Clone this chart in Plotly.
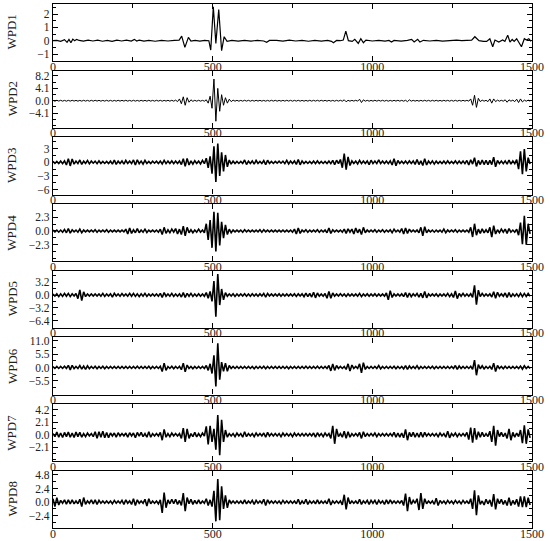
import plotly.graph_objects as go

# ---------------- data ----------------
STEP = 6

wpd1_x = [0, 12, 24, 36, 44, 50, 56, 62, 68, 74, 82, 95, 110, 125, 140, 155, 170, 185, 200, 215,
          230, 245, 255, 262, 270, 285, 300, 320, 340, 360, 380, 395, 403, 413, 424, 432, 445, 460, 475, 488,
          494, 502, 510, 519, 528, 536, 545, 560, 580, 600, 620, 640, 660, 669, 678, 700, 720, 740, 760, 780,
          800, 820, 840, 860, 872, 878, 888, 900, 909, 917, 925, 937, 945, 956, 964, 972, 980, 1000, 1020, 1040,
          1052, 1060, 1068, 1090, 1110, 1123, 1131, 1142, 1149, 1160, 1180, 1200, 1220, 1240, 1264, 1280, 1300, 1311, 1321, 1334,
          1348, 1358, 1368, 1377, 1384, 1396, 1408, 1415, 1424, 1431, 1438, 1444, 1452, 1460, 1467, 1476, 1483, 1490, 1497]
wpd1_y = [0.0, 0.03, -0.05, 0.08, -0.12, 0.1, -0.15, 0.12, 0.0, 0.1, 0.02, -0.03, 0.05, -0.02, 0.04, -0.04, 0.03, -0.05, 0.04, -0.02,
          0.05, -0.03, 0.1, -0.02, 0.04, -0.03, 0.02, -0.04, 0.03, -0.02, 0.03, 0.05, 0.35, -0.5, 0.25, -0.02, 0.03, -0.03, 0.02, 0.0,
          -0.7, 2.55, -0.2, 2.35, -0.75, 0.3, -0.05, 0.03, -0.03, 0.02, -0.03, 0.03, -0.02, -0.12, 0.02, 0.03, -0.03, 0.04, -0.02, 0.03,
          -0.04, 0.02, -0.03, 0.03, -0.05, -0.15, 0.02, 0.0, 0.05, 0.72, 0.0, -0.05, 0.1, -0.2, 0.15, -0.15, 0.05, -0.02, 0.03, -0.03,
          0.02, -0.1, 0.02, -0.03, 0.03, 0.1, -0.1, 0.1, -0.1, 0.03, -0.02, 0.03, -0.03, 0.02, 0.05, 0.0, 0.02, 0.05, 0.3, 0.0,
          -0.05, -0.05, 0.15, -0.45, 0.05, -0.1, 0.05, -0.05, 0.42, -0.1, 0.1, -0.05, 0.15, -0.2, -0.45, 0.15, 0.05, 0.15, -0.05]

wpd2 = [
    0.12, -0.15, 0.14, -0.12, 0.15, -0.14, 0.12, -0.15, 0.14, -0.13,
    0.15, -0.12, 0.13, -0.15, 0.12, -0.14, 0.15, -0.12, 0.13, -0.15,
    0.14, -0.13, 0.15, -0.12, 0.14, -0.15, 0.12, -0.13, 0.15, -0.14,
    0.13, -0.15, 0.12, -0.14, 0.15, -0.13, 0.14, -0.12, 0.15, -0.14,
    0.12, -0.14, 0.15, -0.13, 0.12, -0.15, 0.14, -0.12, 0.13, -0.15,
    0.15, -0.13, 0.12, -0.14, 0.15, -0.12, 0.14, -0.15, 0.13, -0.12,
    0.15, -0.15, 0.15, -0.15, 0.2, -0.3, 0.6, -1.0, 1.3, -1.5,
    1.0, -0.5, 0.3, -0.2, 0.15, -0.15, 0.15, -0.14, 0.13, -0.15,
    0.3, -0.8, 1.5, -2.5, 7.2, -6.8, 4.1, -3.5, 2.0, -1.5,
    1.0, -0.8, 0.5, -0.3, 0.2, -0.15, 0.14, -0.15, 0.12, -0.14,
    0.15, -0.12, 0.14, -0.15, 0.13, -0.14, 0.15, -0.12, 0.14, -0.13,
    0.12, -0.15, 0.13, -0.14, 0.15, -0.12, 0.14, -0.15, 0.12, -0.14,
    0.14, -0.13, 0.15, -0.12, 0.14, -0.15, 0.13, -0.12, 0.15, -0.14,
    0.13, -0.15, 0.12, -0.14, 0.15, -0.13, 0.14, -0.12, 0.15, -0.13,
    0.15, -0.12, 0.14, -0.15, 0.13, -0.14, 0.12, -0.15, 0.14, -0.12,
    0.15, -0.15, 0.3, -0.35, 0.15, -0.15, 0.14, -0.12, 0.15, -0.14,
    0.5, -0.6, 0.3, -0.15, 0.14, -0.15, 0.12, -0.14, 0.15, -0.13,
    0.14, -0.12, 0.15, -0.14, 0.13, -0.15, 0.12, -0.14, 0.15, -0.12,
    0.15, -0.14, 0.13, -0.15, 0.15, -0.3, 0.3, -0.15, 0.14, -0.13,
    0.12, -0.15, 0.14, -0.13, 0.15, -0.12, 0.13, -0.15, 0.14, -0.12,
    0.15, -0.13, 0.12, -0.14, 0.15, -0.12, 0.14, -0.15, 0.13, -0.14,
    0.15, -0.15, 0.14, -0.13, 0.15, -0.12, 0.14, -0.15, 0.6, -1.5,
    1.8, -2.2, 0.8, -0.3, 0.2, -0.15, 0.15, -0.3, 0.6, -0.8,
    0.6, -0.3, 0.2, -0.15, 0.15, -0.15, 0.3, -0.5, 0.3, -0.15,
    0.2, -0.3, 0.5, -0.6, 0.6, -0.4, 0.2, -0.15, 0.2, -0.15,
]

wpd3 = [
    0.2, -0.25, 0.2, -0.25, 0.25, -0.3, 0.3, -0.6, 0.8, -0.8,
    0.7, -0.4, 0.25, -0.3, 0.5, -0.45, 0.25, -0.25, 0.4, -0.35,
    0.25, -0.2, 0.25, -0.3, 0.3, -0.25, 0.2, -0.25, 0.2, -0.25,
    0.25, -0.4, 0.5, -0.45, 0.25, -0.25, 0.3, -0.4, 0.4, -0.25,
    0.25, -0.3, 0.5, -0.6, 0.55, -0.3, 0.25, -0.4, 0.4, -0.25,
    0.2, -0.25, 0.25, -0.2, 0.25, -0.25, 0.25, -0.35, 0.4, -0.3,
    0.25, -0.25, 0.3, -0.3, 0.25, -0.25, 0.3, -0.5, 0.8, -0.9,
    0.85, -0.6, 0.3, -0.4, 0.35, -0.25, 0.25, -0.35, 0.4, -0.3,
    0.9, -1.2, 1.3, -2.5, 3.5, -4.3, 4.1, -3.0, 2.2, -2.0,
    1.6, -1.0, 0.5, -0.4, 0.25, -0.25, 0.2, -0.25, 0.2, -0.25,
    0.5, -0.5, 0.25, -0.25, 0.3, -0.4, 0.4, -0.25, 0.2, -0.25,
    0.35, -0.5, 0.45, -0.25, 0.2, -0.25, 0.2, -0.2, 0.25, -0.2,
    0.25, -0.3, 0.4, -0.35, 0.25, -0.25, 0.3, -0.45, 0.6, -0.55,
    0.3, -0.25, 0.2, -0.25, 0.2, -0.25, 0.25, -0.3, 0.3, -0.25,
    0.2, -0.25, 0.2, -0.25, 0.25, -0.3, 0.4, -0.5, 0.45, -0.3,
    0.6, -1.2, 1.9, -1.6, 1.2, -0.7, 0.3, -0.25, 0.25, -0.35,
    0.4, -0.3, 0.25, -0.25, 0.3, -0.5, 0.45, -0.3, 0.25, -0.3,
    0.5, -0.3, 0.25, -0.25, 0.25, -0.3, 0.3, -0.6, 0.8, -0.75,
    0.4, -0.25, 0.25, -0.25, 0.25, -0.3, 0.3, -0.25, 0.3, -0.45,
    0.6, -0.5, 0.3, -0.7, 0.8, -0.6, 0.25, -0.3, 0.3, -0.4,
    0.25, -0.25, 0.2, -0.25, 0.25, -0.3, 0.3, -0.25, 0.2, -0.25,
    0.3, -0.3, 0.25, -0.25, 0.25, -0.3, 0.4, -0.6, 0.55, -0.4,
    1.0, -0.9, 0.4, -0.5, 0.5, -0.5, 0.45, -0.5, 0.4, -0.5,
    1.1, -1.0, 0.4, -0.3, 0.25, -0.3, 0.3, -0.4, 0.5, -0.4,
    0.3, -0.3, 0.6, -1.5, 2.4, -2.6, 2.9, -2.0, 1.0, -0.4,
]

wpd4 = [
    0.15, -0.15, 0.15, -0.2, 0.15, -0.2, 0.25, -0.3, 0.4, -0.35,
    0.2, -0.15, 0.15, -0.2, 0.3, -0.3, 0.15, -0.15, 0.15, -0.15,
    0.15, -0.15, 0.2, -0.2, 0.15, -0.15, 0.15, -0.15, 0.2, -0.2,
    0.15, -0.15, 0.15, -0.15, 0.15, -0.15, 0.15, -0.15, 0.3, -0.5,
    0.5, -0.4, 0.2, -0.3, 0.4, -0.3, 0.15, -0.2, 0.3, -0.25,
    0.15, -0.15, 0.15, -0.15, 0.15, -0.2, 0.3, -0.6, 0.6, -0.4,
    0.2, -0.3, 0.3, -0.2, 0.4, -0.5, 0.3, -0.6, 0.8, -0.8,
    0.6, -0.3, 0.2, -0.3, 0.15, -0.2, 0.3, -0.2, 0.15, -0.3,
    1.2, -1.5, 1.8, -2.8, 3.2, -3.4, 3.0, -2.4, 1.5, -1.2,
    1.0, -0.6, 0.3, -0.3, 0.15, -0.15, 0.15, -0.15, 0.15, -0.2,
    0.2, -0.15, 0.15, -0.15, 0.15, -0.15, 0.15, -0.15, 0.2, -0.2,
    0.2, -0.15, 0.15, -0.15, 0.15, -0.15, 0.15, -0.15, 0.15, -0.15,
    0.15, -0.15, 0.15, -0.15, 0.15, -0.2, 0.3, -0.5, 0.5, -0.4,
    0.15, -0.15, 0.2, -0.2, 0.15, -0.15, 0.15, -0.15, 0.2, -0.2,
    0.15, -0.15, 0.15, -0.3, 0.5, -0.4, 0.2, -0.15, 0.15, -0.15,
    0.15, -0.2, 0.3, -0.4, 0.35, -0.2, 0.3, -0.5, 0.5, -0.3,
    0.3, -0.6, 0.6, -0.3, 0.15, -0.15, 0.15, -0.15, 0.2, -0.2,
    0.15, -0.15, 0.2, -0.2, 0.15, -0.15, 0.2, -0.3, 0.3, -0.15,
    0.15, -0.2, 0.4, -0.5, 0.5, -0.4, 0.3, -0.15, 0.15, -0.15,
    0.15, -0.3, 0.6, -0.8, 0.7, -0.3, 0.15, -0.15, 0.15, -0.2,
    0.15, -0.15, 0.15, -0.2, 0.3, -0.3, 0.15, -0.15, 0.15, -0.15,
    0.2, -0.2, 0.15, -0.15, 0.15, -0.15, 0.15, -0.2, 0.6, -1.0,
    1.2, -0.7, 0.3, -0.4, 0.35, -0.3, 0.2, -0.3, 0.6, -1.0,
    0.9, -0.5, 0.2, -0.3, 0.3, -0.2, 0.3, -0.4, 0.4, -0.2,
    0.15, -0.2, 0.3, -0.7, 1.4, -2.2, 2.5, -2.3, 1.2, -0.5,
]

wpd5 = [
    0.25, -0.25, 0.3, -0.4, 0.3, -0.35, 0.4, -0.3, 0.4, -0.4,
    0.3, -0.25, 0.4, -0.9, 1.3, -1.4, 0.8, -0.4, 0.25, -0.25,
    0.25, -0.25, 0.25, -0.25, 0.25, -0.3, 0.4, -0.35, 0.25, -0.25,
    0.3, -0.5, 0.45, -0.25, 0.25, -0.3, 0.35, -0.25, 0.25, -0.3,
    0.4, -0.3, 0.4, -0.35, 0.3, -0.4, 0.3, -0.3, 0.4, -0.35,
    0.25, -0.25, 0.25, -0.25, 0.25, -0.3, 0.4, -0.6, 0.6, -0.3,
    0.25, -0.3, 0.4, -0.35, 0.25, -0.3, 0.3, -0.5, 0.6, -0.6,
    0.4, -0.3, 0.4, -0.35, 0.25, -0.3, 0.3, -0.3, 0.25, -0.3,
    0.6, -0.8, 0.9, -1.6, 3.5, -5.4, 5.2, -2.5, 1.5, -1.2,
    0.6, -0.3, 0.25, -0.25, 0.3, -0.35, 0.25, -0.25, 0.25, -0.25,
    0.3, -0.3, 0.25, -0.3, 0.3, -0.25, 0.25, -0.3, 0.3, -0.25,
    0.4, -0.5, 0.4, -0.25, 0.25, -0.25, 0.25, -0.25, 0.3, -0.3,
    0.25, -0.25, 0.25, -0.25, 0.25, -0.25, 0.3, -0.35, 0.3, -0.25,
    0.3, -0.4, 0.5, -0.4, 0.4, -0.5, 0.7, -0.7, 0.5, -0.3,
    0.25, -0.3, 0.4, -0.8, 0.9, -0.8, 0.5, -0.3, 0.25, -0.25,
    0.3, -0.25, 0.25, -0.35, 0.3, -0.25, 0.25, -0.25, 0.25, -0.3,
    0.4, -0.4, 0.25, -0.25, 0.3, -0.3, 0.25, -0.25, 0.3, -0.3,
    0.25, -0.25, 0.25, -0.3, 0.5, -1.2, 1.1, -0.6, 0.3, -0.25,
    0.25, -0.25, 0.3, -0.4, 0.6, -0.6, 0.5, -0.4, 0.3, -0.25,
    0.4, -0.5, 0.4, -0.7, 0.9, -0.7, 0.3, -0.25, 0.25, -0.25,
    0.3, -0.35, 0.25, -0.25, 0.25, -0.3, 0.4, -0.4, 0.3, -0.6,
    1.0, -0.9, 0.4, -0.3, 0.4, -0.3, 0.25, -0.3, 0.3, -0.6,
    2.4, -2.4, 1.2, -0.4, 0.4, -0.3, 0.25, -0.25, 0.3, -0.5,
    0.8, -0.8, 0.7, -0.3, 0.3, -0.3, 0.5, -0.6, 0.6, -0.5,
    0.3, -0.3, 0.3, -0.4, 0.4, -0.4, 0.4, -0.35, 0.4, -0.3,
]

wpd6 = [
    0.4, -0.4, 0.4, -0.4, 0.4, -0.4, 0.5, -0.4, 0.9, -1.0,
    0.9, -0.5, 0.4, -0.4, 0.8, -0.7, 0.6, -0.8, 0.7, -0.5,
    0.4, -0.4, 0.5, -0.5, 0.4, -0.4, 0.5, -0.5, 0.4, -0.4,
    0.4, -0.4, 0.4, -0.4, 0.4, -0.4, 0.4, -0.4, 0.4, -0.4,
    0.4, -0.4, 0.4, -0.4, 0.5, -0.4, 0.4, -0.4, 0.4, -0.4,
    0.5, -0.5, 0.4, -0.4, 0.4, -0.4, 0.5, -1.7, 1.8, -1.2,
    0.4, -0.4, 0.5, -0.5, 0.4, -0.4, 0.5, -0.9, 1.8, -1.8,
    1.0, -0.4, 0.4, -0.5, 0.4, -0.4, 0.4, -0.4, 0.4, -0.4,
    0.8, -1.2, 1.5, -2.5, 5.0, -7.8, 10.0, -5.0, 2.2, -1.6,
    1.8, -1.6, 0.8, -0.4, 0.4, -0.4, 0.4, -0.4, 0.4, -0.4,
    0.4, -0.4, 0.4, -0.4, 0.4, -0.5, 0.4, -0.4, 0.4, -0.4,
    0.5, -0.5, 0.4, -0.4, 0.4, -0.4, 0.4, -0.4, 0.4, -0.4,
    0.4, -0.4, 0.4, -0.5, 0.4, -0.4, 0.4, -0.4, 0.4, -0.4,
    0.4, -0.4, 0.5, -0.4, 0.4, -0.4, 0.4, -0.4, 0.5, -0.4,
    0.4, -0.4, 0.4, -0.4, 0.8, -1.4, 1.4, -1.2, 0.8, -0.4,
    0.4, -0.4, 0.4, -0.8, 1.5, -1.5, 1.0, -0.4, 0.4, -0.4,
    1.5, -2.2, 2.0, -0.8, 0.4, -0.4, 0.4, -0.4, 0.4, -0.4,
    0.8, -0.6, 0.4, -0.4, 0.4, -0.4, 0.4, -0.4, 0.5, -0.5,
    0.4, -0.4, 0.4, -0.6, 0.8, -0.8, 0.6, -0.4, 0.4, -0.4,
    0.7, -0.6, 0.4, -0.4, 0.4, -0.4, 0.4, -0.4, 0.5, -0.5,
    0.4, -0.4, 0.4, -0.4, 0.4, -0.4, 0.4, -0.4, 0.4, -0.4,
    0.8, -0.8, 0.6, -0.4, 0.4, -0.4, 0.4, -0.4, 0.5, -0.8,
    3.0, -3.2, 1.2, -0.5, 0.7, -0.6, 0.4, -0.4, 0.5, -0.8,
    1.8, -1.7, 0.8, -0.4, 0.4, -0.5, 0.5, -0.4, 0.4, -0.4,
    0.4, -0.4, 0.4, -0.4, 0.6, -0.7, 0.7, -0.4, 0.4, -0.4,
]

wpd7 = [
    0.2, -0.3, 0.45, -0.4, 0.3, -0.45, 0.4, -0.3, 0.45, -0.4,
    0.3, -0.45, 0.45, -0.3, 0.4, -0.4, 0.2, -0.3, 0.3, -0.2,
    0.2, -0.3, 0.5, -0.6, 0.5, -0.4, 0.6, -0.5, 0.4, -0.5,
    0.3, -0.2, 0.3, -0.4, 0.35, -0.2, 0.2, -0.2, 0.3, -0.4,
    0.35, -0.2, 0.3, -0.5, 0.4, -0.2, 0.4, -0.3, 0.2, -0.4,
    0.5, -0.4, 0.2, -0.2, 0.2, -0.2, 0.4, -0.9, 0.9, -0.4,
    0.2, -0.3, 0.3, -0.2, 0.2, -0.2, 0.2, -0.6, 1.1, -1.2,
    1.0, -0.6, 0.2, -0.3, 0.4, -0.35, 0.2, -0.3, 0.3, -0.2,
    1.4, -1.6, 1.5, -1.2, 1.0, -2.5, 3.3, -3.4, 2.5, -1.2,
    0.8, -0.4, 0.2, -0.2, 0.2, -0.3, 0.3, -0.2, 0.2, -0.4,
    0.5, -0.3, 0.2, -0.2, 0.2, -0.3, 0.3, -0.2, 0.2, -0.2,
    0.3, -0.4, 0.4, -0.2, 0.2, -0.2, 0.2, -0.2, 0.2, -0.3,
    0.3, -0.2, 0.2, -0.2, 0.2, -0.3, 0.3, -0.2, 0.2, -0.2,
    0.2, -0.2, 0.2, -0.2, 0.2, -0.2, 0.3, -0.4, 0.35, -0.2,
    0.2, -0.3, 0.3, -0.2, 0.2, -0.6, 1.5, -1.5, 1.0, -0.3,
    0.2, -0.4, 0.6, -0.6, 0.5, -0.4, 0.2, -0.2, 0.2, -0.2,
    0.4, -0.6, 0.5, -0.3, 0.2, -0.2, 0.2, -0.2, 0.3, -0.3,
    0.2, -0.2, 0.2, -0.2, 0.2, -0.2, 0.2, -0.2, 0.4, -0.4,
    0.3, -0.4, 0.3, -0.5, 0.9, -0.9, 0.4, -0.3, 0.4, -0.4,
    0.3, -0.4, 0.4, -0.4, 0.4, -0.2, 0.2, -0.2, 0.2, -0.2,
    0.2, -0.3, 0.3, -0.2, 0.2, -0.4, 0.6, -0.5, 0.2, -0.2,
    0.3, -0.3, 0.2, -0.2, 0.2, -0.2, 0.4, -0.8, 1.2, -1.3,
    1.1, -0.8, 0.5, -0.4, 0.4, -0.3, 0.2, -0.3, 0.6, -1.2,
    1.5, -1.8, 0.8, -0.3, 0.4, -0.3, 0.3, -0.6, 1.0, -0.9,
    0.4, -0.4, 0.3, -0.3, 0.8, -1.4, 1.6, -1.5, 0.9, -0.5,
]

wpd8 = [
    0.6, -0.8, 0.8, -0.5, 0.3, -0.2, 0.4, -0.35, 0.4, -0.3,
    0.4, -0.3, 0.2, -0.3, 0.5, -0.8, 0.8, -0.4, 0.2, -0.2,
    0.4, -0.3, 0.4, -0.4, 0.3, -0.2, 0.2, -0.2, 0.2, -0.2,
    0.2, -0.3, 0.3, -0.2, 0.2, -0.2, 0.3, -0.4, 0.4, -0.2,
    0.2, -0.4, 0.6, -0.6, 0.4, -0.2, 0.2, -0.2, 0.5, -0.7,
    0.6, -0.3, 0.2, -0.2, 0.2, -0.3, 0.4, -1.9, 1.7, -1.0,
    0.4, -0.3, 0.5, -0.3, 0.5, -0.4, 0.3, -0.6, 1.6, -1.6,
    0.8, -0.3, 0.5, -0.4, 0.3, -0.3, 0.4, -0.3, 0.2, -0.2,
    0.6, -0.6, 0.4, -0.8, 2.0, -3.4, 4.1, -3.2, 2.8, -1.2,
    1.2, -1.0, 0.4, -0.2, 0.2, -0.2, 0.2, -0.2, 0.2, -0.3,
    0.4, -0.3, 0.2, -0.2, 0.3, -0.4, 0.3, -0.2, 0.2, -0.2,
    0.5, -0.6, 0.4, -0.2, 0.2, -0.2, 0.2, -0.2, 0.2, -0.3,
    0.3, -0.2, 0.2, -0.2, 0.2, -0.2, 0.2, -0.3, 0.5, -0.4,
    0.2, -0.3, 0.5, -0.4, 0.2, -0.2, 0.2, -0.3, 0.4, -0.3,
    0.2, -0.2, 0.2, -0.3, 0.6, -0.5, 0.2, -0.2, 0.2, -0.2,
    0.2, -0.5, 1.3, -1.3, 0.8, -0.3, 0.2, -0.2, 0.2, -0.3,
    0.5, -0.4, 0.2, -0.2, 0.3, -0.4, 0.3, -0.2, 0.3, -0.4,
    0.3, -0.2, 0.2, -0.4, 0.4, -0.3, 0.4, -0.2, 0.2, -0.2,
    0.2, -0.2, 0.3, -0.6, 1.5, -1.6, 0.9, -0.4, 0.3, -0.2,
    0.6, -1.4, 1.6, -1.2, 0.6, -0.3, 0.2, -0.2, 0.2, -0.4,
    0.7, -0.6, 0.3, -0.2, 0.2, -0.3, 0.3, -0.2, 0.2, -0.3,
    0.3, -0.2, 0.2, -0.3, 0.3, -0.2, 0.2, -0.3, 0.6, -1.2,
    2.1, -2.3, 1.2, -0.4, 0.2, -0.5, 0.5, -0.3, 0.4, -0.8,
    1.4, -1.3, 0.6, -0.3, 0.5, -0.4, 0.3, -0.6, 0.8, -0.6,
    0.3, -0.4, 0.5, -0.8, 1.0, -0.9, 1.0, -0.9, 0.8, -0.5,
]

panel_names = ["WPD1", "WPD2", "WPD3", "WPD4", "WPD5", "WPD6", "WPD7", "WPD8"]
x_tick_values = [0, 500, 1000, 1500]
y_tick_values = [
    [-1, 0, 1, 2],
    [-4.1, 0.0, 4.1, 8.2],
    [-6, -3, 0, 3],
    [-2.3, 0.0, 2.3],
    [-6.4, -3.2, 0.0, 3.2],
    [-5.5, 0.0, 5.5, 11.0],
    [-2.1, 0.0, 2.1, 4.2],
    [-2.4, 0.0, 2.4, 4.8],
]
y_tick_labels = [
    ["−1", "0", "1", "2"],
    ["−4.1", "0.0", "4.1", "8.2"],
    ["−6", "−3", "0", "3"],
    ["−2.3", "0.0", "2.3"],
    ["−6.4", "−3.2", "0.0", "3.2"],
    ["−5.5", "0.0", "5.5", "11.0"],
    ["−2.1", "0.0", "2.1", "4.2"],
    ["−2.4", "0.0", "2.4", "4.8"],
]
y_limits = [
    [-1.54, 2.76],
    [-9.0, 9.96],
    [-7.08, 5.46],
    [-5.03, 4.47],
    [-8.2, 6.05],
    [-11.2, 12.4],
    [-4.43, 5.13],
    [-4.58, 5.54],
]

# ---------------- figure ----------------
W, H = 550, 541
ML, MR, MT, MB = 53, 18, 4, 13
plot_h = H - MT - MB
panel_h = 57.2
pitch = (plot_h - panel_h) / 7

FONT = "Liberation Serif, Times New Roman, serif"

fig = go.Figure()
hf_series = [wpd2, wpd3, wpd4, wpd5, wpd6, wpd7, wpd8]

fig.add_trace(go.Scatter(x=wpd1_x, y=wpd1_y, mode="lines",
                         line=dict(color="black", width=1.2),
                         xaxis="x", yaxis="y", hoverinfo="skip"))
for i, vals in enumerate(hf_series, start=2):
    xs = [k * STEP for k in range(len(vals))]
    fig.add_trace(go.Scatter(x=xs, y=vals, mode="lines",
                             line=dict(color="black", width=1.0 if i == 2 else 1.6),
                             xaxis=f"x{i}", yaxis=f"y{i}", hoverinfo="skip"))

layout = dict(
    template="none",
    width=W, height=H,
    margin=dict(l=ML, r=MR, t=MT, b=MB, pad=0),
    paper_bgcolor="white", plot_bgcolor="white",
    showlegend=False,
    font=dict(family=FONT, color="#222222"),
    annotations=[],
)

for k in range(8):
    top_px = MT + k * pitch
    bot_px = top_px + panel_h
    d0 = max(0.0, (H - MB - bot_px) / plot_h)
    d1 = min(1.0, (H - MB - top_px) / plot_h)
    sfx = "" if k == 0 else str(k + 1)
    step_major = y_tick_values[k][1] - y_tick_values[k][0]
    layout[f"xaxis{sfx}"] = dict(
        domain=[0, 1], anchor=f"y{sfx}", range=[0, 1500], automargin=False,
        tickmode="array", tickvals=x_tick_values,
        ticktext=[str(v) for v in x_tick_values],
        ticks="inside", ticklen=5, tickwidth=1, tickcolor="black",
        showline=True, linecolor="black", linewidth=1.3, mirror="ticks",
        showgrid=False, zeroline=False, ticklabelstandoff=-6,
        tickfont=dict(family=FONT, size=12, color="#222222"),
        minor=dict(tickmode="linear", tick0=0, dtick=250, ticks="inside",
                   ticklen=4, tickcolor="black", showgrid=False),
    )
    layout[f"yaxis{sfx}"] = dict(
        domain=[d0, d1], anchor=f"x{sfx}", range=y_limits[k], automargin=False,
        tickmode="array", tickvals=y_tick_values[k], ticktext=y_tick_labels[k],
        ticks="inside", ticklen=5, tickwidth=1, tickcolor="black",
        showline=True, linecolor="black", linewidth=1.3, mirror="ticks",
        showgrid=False, zeroline=False,
        tickfont=dict(family=FONT, size=11.5, color="#222222"),
        minor=dict(tickmode="linear", tick0=0, dtick=step_major / 2, ticks="inside",
                   ticklen=3, tickcolor="black", showgrid=False),
    )
    layout["annotations"].append(dict(
        text=panel_names[k], xref="paper", yref="paper",
        x=(12 - ML) / (W - ML - MR), y=(d0 + d1) / 2,
        xanchor="center", yanchor="middle", textangle=-90, showarrow=False,
        font=dict(family=FONT, size=13, color="#222222"),
    ))

fig.update_layout(**layout)
fig.write_html("out.html", config={"displayModeBar": False},
               post_script="document.body.style.margin='0';")
